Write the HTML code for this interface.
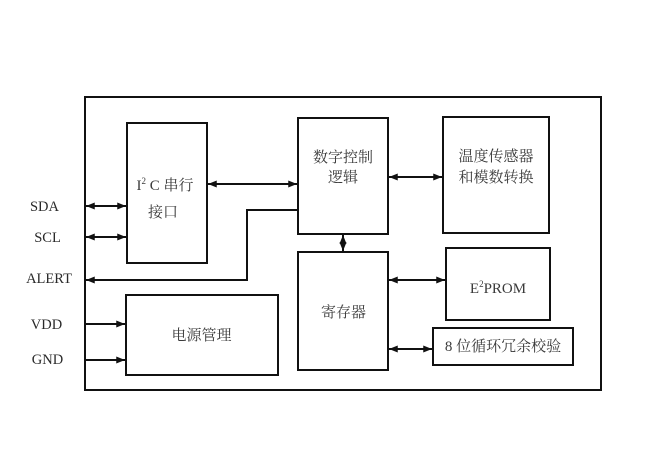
<!DOCTYPE html>
<html><head><meta charset="utf-8"><style>
html,body{margin:0;padding:0;background:#fff;}
svg{display:block;}
text{font-family:"Liberation Serif","Noto Serif CJK SC",serif;font-size:15px;fill:#3a3a3a;}
.lb{font-size:14.5px;fill:#2a2a2a;}
</style></head><body>
<svg width="665" height="458" viewBox="0 0 665 458" xmlns="http://www.w3.org/2000/svg">
<defs>
<marker id="ah" viewBox="0 0 10 8" refX="10" refY="4" markerWidth="9" markerHeight="7" markerUnits="userSpaceOnUse" orient="auto-start-reverse">
<path d="M0,0 L10,4 L0,8 z" fill="#111"/>
</marker>
</defs>
<g fill="none" stroke="#111" stroke-width="2">
<rect x="85" y="97" width="516" height="293"/>
<rect x="127" y="123" width="80" height="140"/>
<rect x="126" y="295" width="152" height="80"/>
<rect x="298" y="118" width="90" height="116"/>
<rect x="443" y="117" width="106" height="116"/>
<rect x="298" y="252" width="90" height="118"/>
<rect x="446" y="248" width="104" height="72"/>
<rect x="433" y="328" width="140" height="37"/>
</g>
<g fill="none" stroke="#111" stroke-width="2">
<line x1="86" y1="206" x2="126" y2="206" marker-start="url(#ah)" marker-end="url(#ah)"/>
<line x1="86" y1="237" x2="126" y2="237" marker-start="url(#ah)" marker-end="url(#ah)"/>
<polyline points="298,210 247,210 247,280 86,280" marker-end="url(#ah)"/>
<line x1="86" y1="324" x2="125" y2="324" marker-end="url(#ah)"/>
<line x1="86" y1="360" x2="125" y2="360" marker-end="url(#ah)"/>
<line x1="208" y1="184" x2="297" y2="184" marker-start="url(#ah)" marker-end="url(#ah)"/>
<line x1="389" y1="177" x2="442" y2="177" marker-start="url(#ah)" marker-end="url(#ah)"/>
<line x1="343" y1="235" x2="343" y2="251" marker-start="url(#ah)" marker-end="url(#ah)"/>
<line x1="389" y1="280" x2="445" y2="280" marker-start="url(#ah)" marker-end="url(#ah)"/>
<line x1="389" y1="349" x2="432" y2="349" marker-start="url(#ah)" marker-end="url(#ah)"/>
</g>
<g dominant-baseline="central" text-anchor="middle">
<text class="lb" x="44.5" y="207">SDA</text>
<text class="lb" x="47.5" y="238">SCL</text>
<text class="lb" x="49" y="279">ALERT</text>
<text class="lb" x="46.5" y="325">VDD</text>
<text class="lb" x="47.5" y="360">GND</text>
<text x="165" y="186">I<tspan font-size="9" dy="-5">2</tspan><tspan dy="5"> C 串行</tspan></text>
<text x="163" y="213">接口</text>
<text x="201.5" y="336">电源管理</text>
<text x="343" y="158">数字控制</text>
<text x="343" y="178">逻辑</text>
<text x="496" y="157">温度传感器</text>
<text x="496" y="178">和模数转换</text>
<text x="343.5" y="313">寄存器</text>
<text x="498" y="289">E<tspan font-size="9" dy="-5">2</tspan><tspan dy="5">PROM</tspan></text>
<text x="503" y="347">8 位循环冗余校验</text>
</g>
</svg>
</body></html>
